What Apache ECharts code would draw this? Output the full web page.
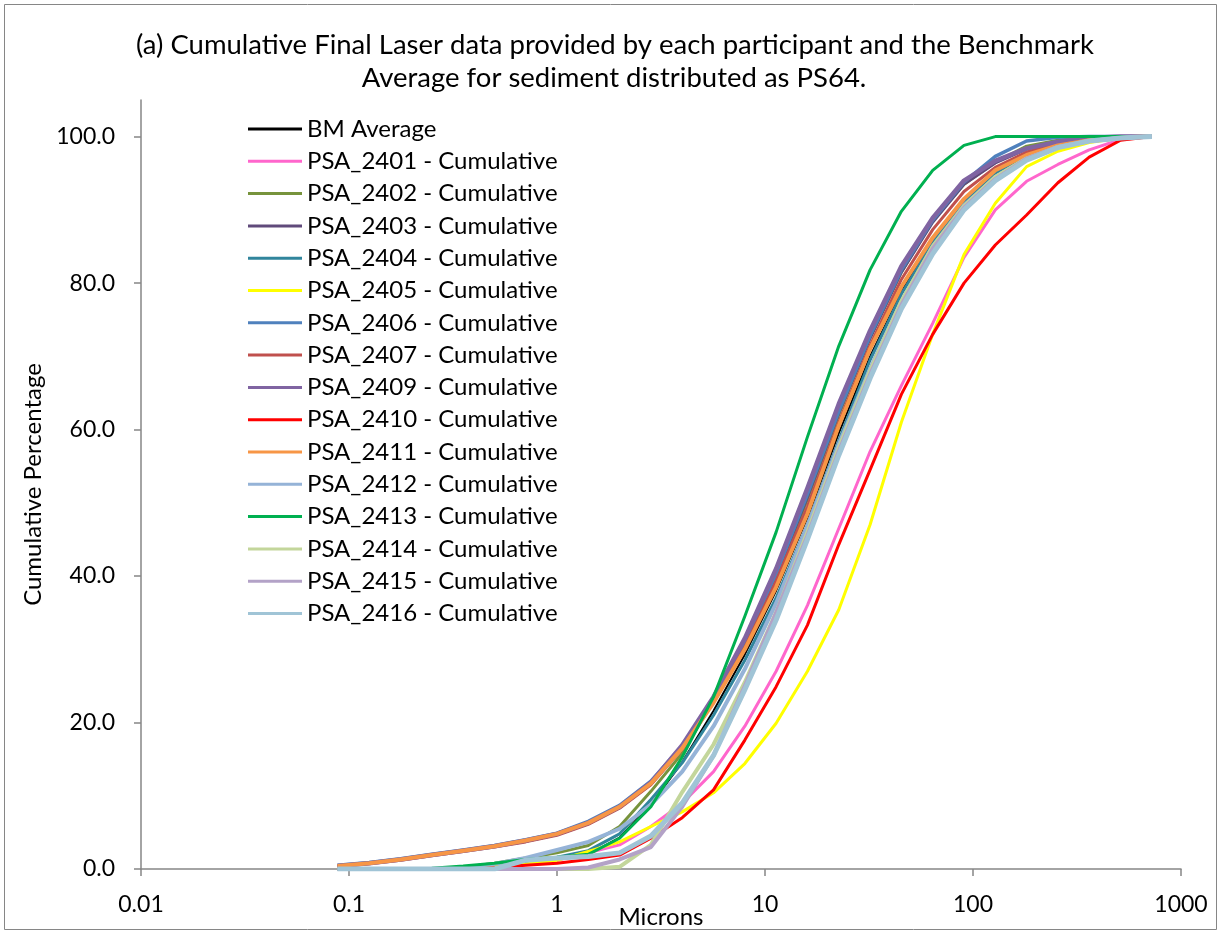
<!DOCTYPE html>
<html>
<head>
<meta charset="utf-8">
<script src="https://cdn.jsdelivr.net/npm/echarts@6/dist/echarts.min.js"></script>
<style>
  html, body { margin: 0; padding: 0; background: #fff; }
  #chart { width: 1221px; height: 933px; }
</style>
</head>
<body>
<div id="chart"></div>
<script>
// particle size classes (microns), half-phi steps
const sizes = [0.088, 0.125, 0.177, 0.25, 0.354, 0.5, 0.707, 1, 1.414, 2, 2.828, 4, 5.657, 8, 11.31, 16, 22.63, 32, 45.25, 64, 90.51, 128, 181, 256, 362, 512, 724]

// cumulative percentage
const bmAverage = [0, 0, 0, 0.1, 0.3, 0.7, 1.2, 1.6, 2.0, 4.3, 8.8, 14.6, 21.6, 29.3, 38, 48, 59.5, 70, 78.8, 86, 91.3, 95, 97.5, 98.8, 99.5, 99.9, 100]
const psa2401 = [0, 0, 0, 0, 0, 0.2, 0.6, 1.2, 2.2, 3.3, 5.8, 9.0, 13.3, 19.5, 27, 36, 46.5, 57, 66, 74.5, 83.5, 90, 93.9, 96.2, 98.2, 99.6, 100]
const psa2402 = [0, 0, 0, 0, 0.2, 0.8, 1.5, 2.2, 3.2, 5.8, 10.6, 15.8, 23, 30.5, 39.5, 50.5, 62, 72.5, 81.5, 88.5, 93.5, 96.5, 98.7, 99.5, 99.9, 100, 100]
const psa2403 = [0.4, 0.8, 1.3, 1.9, 2.5, 3.1, 3.8, 4.7, 6.2, 8.4, 11.6, 16.6, 23, 30.8, 40, 50.8, 62.3, 72.5, 81.5, 88.3, 93.5, 96.4, 98.3, 99.2, 99.7, 100, 100]
const psa2404 = [0, 0, 0, 0, 0.2, 0.5, 1.0, 1.6, 2.5, 4.8, 9.5, 14.5, 21, 28.5, 37, 47, 58.5, 69.5, 78.5, 85.5, 91, 95, 97.5, 98.8, 99.5, 99.9, 100]
const psa2405 = [0, 0, 0, 0, 0, 0.3, 0.7, 1.2, 2.4, 3.7, 5.8, 7.8, 10.4, 14.4, 19.9, 27, 35.4, 47, 61, 73, 83.9, 90.9, 95.9, 98, 99.2, 99.8, 100]
const psa2406 = [0.5, 0.9, 1.4, 2.0, 2.6, 3.2, 4.0, 4.9, 6.5, 8.7, 12, 16.8, 23.2, 31, 40.3, 51.2, 62.5, 72.8, 81.8, 88.6, 93.8, 97.3, 99.4, 99.9, 100, 100, 100]
const psa2407 = [0.3, 0.7, 1.2, 1.8, 2.4, 3.0, 3.7, 4.6, 6.1, 8.3, 11.5, 16.4, 22.8, 30.3, 39.3, 49.5, 61, 71.5, 80.5, 87.3, 92.5, 95.8, 97.9, 99, 99.6, 99.9, 100]
const psa2409 = [0.4, 0.8, 1.3, 1.9, 2.5, 3.1, 3.9, 4.8, 6.3, 8.5, 11.8, 16.9, 23.5, 31.5, 41, 52, 63.5, 73.5, 82.3, 88.9, 94, 96.7, 98.4, 99.3, 99.8, 100, 100]
const psa2410 = [0, 0, 0, 0, 0, 0.2, 0.5, 0.8, 1.3, 1.9, 4.2, 7.0, 10.8, 17.6, 24.9, 33.3, 44.3, 54.5, 64.8, 73, 80, 85.2, 89.3, 93.7, 97.2, 99.5, 100]
const psa2411 = [0.4, 0.8, 1.3, 1.9, 2.5, 3.1, 3.9, 4.8, 6.3, 8.5, 11.7, 16.5, 22.7, 30, 38.5, 48.5, 60.5, 71, 79.5, 86.2, 91.5, 95.4, 97.5, 98.8, 99.5, 99.9, 100]
const psa2412 = [0, 0, 0, 0, 0.2, 0.7, 1.5, 2.6, 3.7, 5.5, 8.8, 13.3, 19.5, 27.3, 36.3, 46.8, 58, 68.3, 77.5, 85, 90.6, 94.5, 97, 98.5, 99.4, 99.8, 100]
const psa2413 = [0, 0, 0, 0.1, 0.4, 0.8, 1.3, 1.6, 2.0, 4.2, 8.5, 15.3, 23.5, 34.5, 46, 59, 71.4, 81.8, 89.8, 95.4, 98.8, 100, 100, 100, 100, 100, 100]
const psa2414 = [0, 0, 0, 0, 0, 0, 0, 0, 0, 0.3, 3.3, 10.5, 17, 25.5, 35, 46, 57.5, 68, 77.5, 85, 90.5, 94.5, 97, 98.6, 99.4, 99.8, 100]
const psa2415 = [0, 0, 0, 0, 0, 0, 0, 0, 0.2, 1.3, 3.0, 8.5, 15.5, 25, 35, 45.5, 57, 67.5, 77, 84.7, 90.3, 94.2, 97, 98.6, 99.4, 99.8, 100]
const psa2416 = [0, 0, 0, 0, 0, 0, 1.2, 1.5, 1.7, 2.2, 4.5, 9.0, 15.5, 24.5, 34, 45, 56.5, 67, 76.5, 84, 90, 94, 96.8, 98.5, 99.4, 99.8, 100]

const xTickLabels = ['0.01', '0.1', '1', '10', '100', '1000']
const yTicks = [0, 20, 40, 60, 80, 100]

const seriesList = [
  { name: 'BM Average', data: bmAverage, color: '#000000', width: 2 },
  { name: 'PSA_2401 - Cumulative', data: psa2401, color: '#FF66CC', width: 3 },
  { name: 'PSA_2402 - Cumulative', data: psa2402, color: '#77933C', width: 3 },
  { name: 'PSA_2403 - Cumulative', data: psa2403, color: '#604A7B', width: 3 },
  { name: 'PSA_2404 - Cumulative', data: psa2404, color: '#31859C', width: 3 },
  { name: 'PSA_2405 - Cumulative', data: psa2405, color: '#FFFF00', width: 3 },
  { name: 'PSA_2406 - Cumulative', data: psa2406, color: '#4F81BD', width: 3.5 },
  { name: 'PSA_2407 - Cumulative', data: psa2407, color: '#C0504D', width: 3 },
  { name: 'PSA_2409 - Cumulative', data: psa2409, color: '#8064A2', width: 4.5 },
  { name: 'PSA_2410 - Cumulative', data: psa2410, color: '#FF0000', width: 3 },
  { name: 'PSA_2411 - Cumulative', data: psa2411, color: '#F79646', width: 4 },
  { name: 'PSA_2412 - Cumulative', data: psa2412, color: '#95B3D7', width: 4 },
  { name: 'PSA_2413 - Cumulative', data: psa2413, color: '#00B050', width: 3 },
  { name: 'PSA_2414 - Cumulative', data: psa2414, color: '#C3D69B', width: 4 },
  { name: 'PSA_2415 - Cumulative', data: psa2415, color: '#B3A2C7', width: 4 },
  { name: 'PSA_2416 - Cumulative', data: psa2416, color: '#A0C4D6', width: 5 }
]

const fontFamily = 'Lato, "Open Sans", sans-serif'
const axisGrey = '#868686'

const chart = echarts.init(document.getElementById('chart'), null, { renderer: 'canvas' })

const option = {
  animation: false,
  backgroundColor: '#ffffff',
  textStyle: { fontFamily: fontFamily, color: '#000' },
  graphic: [
    {
      type: 'rect',
      shape: { x: 4.5, y: 4.5, width: 1212, height: 925 },
      style: { fill: 'none', stroke: axisGrey, lineWidth: 1 },
      silent: true
    },
    {
      type: 'text',
      x: 615,
      y: 45,
      style: {
        text: '(a) Cumulative Final Laser data provided by each participant and the Benchmark',
        textAlign: 'center',
        textVerticalAlign: 'middle',
        font: '27.5px ' + fontFamily,
        fill: '#000'
      }
    },
    {
      type: 'text',
      x: 614,
      y: 78,
      style: {
        text: 'Average for sediment distributed as PS64.',
        textAlign: 'center',
        textVerticalAlign: 'middle',
        font: '27.5px ' + fontFamily,
        fill: '#000'
      }
    }
  ],
  legend: {
    orient: 'vertical',
    left: 248,
    top: 117,
    padding: 0,
    icon: 'rect',
    itemWidth: 54,
    itemHeight: 3,
    itemGap: 8.3,
    textStyle: { fontSize: 24, lineHeight: 24, color: '#000', fontFamily: fontFamily },
    data: seriesList.map(s => s.name)
  },
  grid: {
    left: 141,
    right: 40,
    top: 100,
    bottom: 64,
    containLabel: false,
    outerBoundsMode: 'none'
  },
  xAxis: {
    type: 'log',
    logBase: 10,
    min: 0.01,
    max: 1000,
    name: 'Microns',
    nameLocation: 'middle',
    nameGap: 36,
    nameMoveOverlap: false,
    nameTextStyle: { fontSize: 24, color: '#000' },
    axisLine: { lineStyle: { color: axisGrey, width: 1.5 } },
    axisTick: { show: true, inside: false, length: 7, lineStyle: { color: axisGrey, width: 1.5 } },
    axisLabel: {
      fontSize: 23,
      color: '#000',
      margin: 24,
      formatter: function (v) {
        const i = Math.round(Math.log10(v)) + 2
        return xTickLabels[i] !== undefined ? xTickLabels[i] : ''
      }
    },
    minorTick: { show: false },
    splitLine: { show: false }
  },
  yAxis: {
    type: 'value',
    min: 0,
    max: 105,
    interval: 20,
    name: 'Cumulative Percentage',
    nameLocation: 'middle',
    nameRotate: 90,
    nameGap: 96,
    nameMoveOverlap: false,
    nameTextStyle: { fontSize: 24, color: '#000' },
    axisLine: { show: true, lineStyle: { color: axisGrey, width: 1.5 } },
    axisTick: { show: true, inside: false, length: 7, customValues: yTicks, lineStyle: { color: axisGrey, width: 1.5 } },
    axisLabel: {
      fontSize: 23,
      color: '#000',
      margin: 26,
      customValues: yTicks,
      formatter: function (v) { return v.toFixed(1) }
    },
    splitLine: { show: false }
  },
  series: seriesList.map(s => ({
    name: s.name,
    type: 'line',
    data: sizes.map((x, i) => [x, s.data[i]]),
    symbol: 'none',
    color: s.color,
    lineStyle: { color: s.color, width: s.width, join: 'round' },
    emphasis: { disabled: true }
  }))
}

chart.setOption(option)
</script>
</body>
</html>
